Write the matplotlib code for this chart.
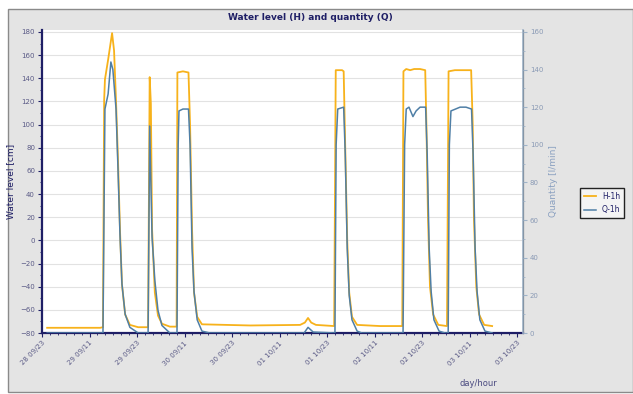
import matplotlib
matplotlib.use("Agg")
import matplotlib.pyplot as plt
from matplotlib.patches import Rectangle
from matplotlib.ticker import MultipleLocator

# Water level H [cm] (left axis), time in hours from first tick
h_time = [1.3, 14.7, 15.4, 15.7, 15.9, 16.7, 17.7, 18.2, 18.7, 19.2, 19.7, 20.2, 21.0, 22.2, 24.3,
          26.8, 27.2, 27.5, 27.8, 28.5, 29.3, 30.3, 32.3,
          34.0, 34.2, 35.6, 37.0, 37.4, 37.9, 38.4, 39.2, 40.4, 52.6,
          65.2, 66.4, 67.2, 68.0, 69.2,
          73.8, 74.2, 75.8, 76.2, 76.6, 77.1, 77.6, 78.3, 79.6, 85.4,
          91.0, 91.3, 92.0, 93.0, 94.0, 95.5, 96.8, 97.1, 97.5, 98.0, 98.8, 100.1,
          102.3, 102.7, 104.3, 106.9, 108.4, 108.8, 109.1, 109.7, 110.4, 111.7, 113.7]
h_vals = [-75.5, -75.5, -75, 121, 139, 156, 179, 164, 120, 69, 9, -38, -64, -73, -75,
          -75, 141, 118, 10, -45, -65, -72, -74.5,
          -74.5, 145, 146, 145, 100, 10, -45, -66, -72.5, -73.5,
          -73, -71, -67, -71, -73,
          -74, 147, 147, 146, 80, 0, -45, -66, -73, -74,
          -74, 146, 148, 147, 148, 148, 147, 100, 20, -40, -64, -73,
          -74, 146, 147, 147, 147, 100, 20, -40, -64, -73, -74]

# Quantity Q (right axis)
q_time = [1.3, 15.4, 15.7, 15.9, 16.7, 17.4, 17.9, 18.7, 19.2, 19.7, 20.2, 21.0, 22.2, 24.3,
          26.8, 27.2, 27.5, 27.8, 28.5, 29.3, 30.3, 32.3,
          34.1, 34.4, 34.6, 35.6, 37.0, 37.4, 37.9, 38.4, 39.2, 40.4, 42.4,
          66.2, 67.2, 68.5,
          74.0, 74.3, 74.7, 76.2, 76.6, 77.1, 77.6, 78.3, 79.6, 80.8,
          91.2, 91.6, 92.0, 92.7, 93.7, 94.5, 95.5, 96.9, 97.3, 97.8, 98.3, 99.0, 100.3, 101.8,
          102.6, 102.9, 103.3, 105.6, 107.1, 108.5, 108.9, 109.4, 109.9, 110.6, 111.9, 113.7]
q_vals = [0, 0, 71, 119, 127, 144, 140, 119, 87, 52, 26, 10, 3, 0,
          0, 110, 80, 51, 28, 12, 4, 0,
          0, 100, 118, 119, 119, 100, 45, 22, 7, 1, 0,
          0, 3, 0.5,
          0, 100, 119, 120, 95, 45, 20, 7, 1, 0,
          0, 100, 119, 120, 115, 118, 120, 120, 95, 45, 22, 7, 1, 0,
          0, 100, 118, 120, 120, 119, 95, 45, 22, 7, 1, 0]

tick_hours = [0, 12, 24, 36, 48, 60, 72, 84, 96, 108, 120]
tick_labels = ["28 09/23", "29 09/11", "29 09/23", "30 09/11", "30 09/23", "01 10/11",
               "01 10/23", "02 10/11", "02 10/23", "03 10/11", "03 10/23"]

navy = "#1f1f66"
fig = plt.figure(figsize=(6.33, 3.94), dpi=100, facecolor="white")
fig.patches.append(Rectangle((8 / 633, 0.004), 1 - 8 / 633, 1 - 9 / 394 - 0.004,
                             transform=fig.transFigure, facecolor="#e4e4e4",
                             edgecolor="#8a8a8a", lw=1.0, zorder=-10))

ax = fig.add_axes([42 / 633, 61 / 394, 481 / 633, 303 / 394])
ax.set_facecolor("white")
ax2 = ax.twinx()

lh, = ax.plot(h_time, h_vals, color="#F7B21B", lw=1.3, zorder=3)
lq, = ax2.plot(q_time, q_vals, color="#4F7FA6", lw=1.1, zorder=3)

ax.set_xlim(0, 121.5)
ax.set_ylim(-80, 181.7)
ax2.set_ylim(0, 161.0)

ax.yaxis.set_major_locator(MultipleLocator(20))
ax.yaxis.set_minor_locator(MultipleLocator(10))
ax2.yaxis.set_major_locator(MultipleLocator(20))
ax2.yaxis.set_minor_locator(MultipleLocator(10))
ax.xaxis.set_minor_locator(MultipleLocator(2))
ax.set_xticks(tick_hours)
ax.set_xticklabels(tick_labels, rotation=45, ha="right", rotation_mode="anchor")

ax.grid(axis="y", color="#e2e2e2", lw=0.8)
ax.set_axisbelow(True)

for a in (ax, ax2):
    a.spines["top"].set_visible(False)
ax.spines["left"].set_color(navy)
ax.spines["left"].set_linewidth(1.6)
ax.spines["bottom"].set_color(navy)
ax.spines["bottom"].set_linewidth(1.6)
ax2.spines["left"].set_visible(False)
ax2.spines["bottom"].set_visible(False)
ax2.spines["right"].set_color("#9fb3c8")
ax2.spines["right"].set_linewidth(1.2)

ax.tick_params(axis="both", which="major", labelsize=5, colors=navy, labelcolor="#5a5a86",
               length=3, width=0.8, pad=2)
ax.tick_params(axis="both", which="minor", colors=navy, length=1.5, width=0.6)
ax2.tick_params(axis="y", which="major", labelsize=5, colors="#9fb3c8", labelcolor="#8a9ab5",
                length=3, width=0.8, pad=2)
ax2.tick_params(axis="y", which="minor", colors="#9fb3c8", length=1.5, width=0.6)

ax.set_ylabel("Water level [cm]", fontsize=6.5, color=navy, labelpad=4)
ax2.set_ylabel("Quantity [l/min]", fontsize=6.5, color="#8aa0c0", labelpad=4)

fig.text(0.49, 1 - 17 / 394, "Water level (H) and quantity (Q)", fontsize=6.5,
         fontweight="bold", color=navy, ha="center", va="center")
fig.text(478 / 633, 1 - 383 / 394, "day/hour", fontsize=6, color="#4a4a80",
         ha="center", va="center")

leg = fig.legend([lh, lq], ["H-1h", "Q-1h"], loc="center",
                 bbox_to_anchor=(602 / 633, 1 - 203 / 394), fontsize=5.5,
                 fancybox=False, edgecolor="#222222", facecolor="#f4f4f4",
                 framealpha=1, handlelength=1.6, borderpad=0.5, labelspacing=0.6)
for t in leg.get_texts():
    t.set_color(navy)
leg.get_frame().set_linewidth(1.0)

fig.savefig("out.png", dpi=100)
